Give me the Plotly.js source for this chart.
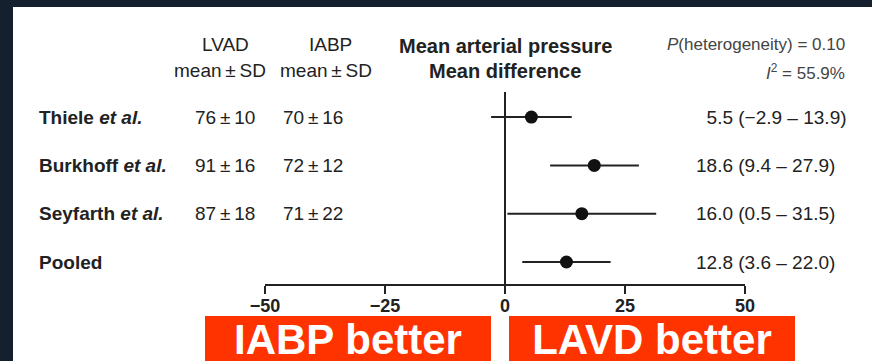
<!DOCTYPE html>
<html>
<head>
<meta charset="utf-8">
<script src="https://cdn.plot.ly/plotly-3.0.1.min.js"></script>
<style>
  html, body { margin: 0; padding: 0; background: #15202f; width: 872px; height: 361px; overflow: hidden; }
  #chart { position: absolute; left: 13px; top: 7px; width: 859px; height: 354px; }
</style>
</head>
<body>
<div id="chart"></div>
<script>
// Mean arterial pressure: LVAD vs IABP, per study and pooled
const studies = ['Thiele et al.', 'Burkhoff et al.', 'Seyfarth et al.', 'Pooled'];
const lvadMean = [76, 91, 87];
const lvadSD = [10, 16, 18];
const iabpMean = [70, 72, 71];
const iabpSD = [16, 12, 22];
const meanDiff = [5.5, 18.6, 16.0, 12.8];
const ciLow = [-2.9, 9.4, 0.5, 3.6];
const ciHigh = [13.9, 27.9, 31.5, 22.0];
const xTicks = [-50, -25, 0, 25, 50];
const heterogeneityP = '0.10';
const iSquared = '55.9%';
const sideLabels = ['IABP better', 'LAVD better'];

const FONT = 'Liberation Sans, Arial, Helvetica, sans-serif';
const INK = '#222';
const rows = studies.map((_, i) => studies.length - i);   // top row first

// plot area spans 480 x 192 px; helpers convert pixel offsets to paper fractions
const PW = 480, PH = 192;
const fx = px => px / PW;          // px measured from the left edge of the plot area
const fy = py => py / PH;          // py measured up from the x axis

const fmt = v => (v < 0 ? '\u2212' : '') + Math.abs(v).toFixed(1);
const pm = (m, s) => m + '\u2009\u00b1\u2009' + s;

const annotations = [];
const add = (o) => annotations.push(Object.assign({
  showarrow: false, xref: 'paper', yref: 'y', yanchor: 'middle',
  font: { family: FONT, size: 19, color: INK }
}, o));

studies.forEach((name, i) => {
  const y = rows[i];
  add({ x: fx(-228), xanchor: 'left', y,
        text: '<b>' + name.replace(' et al.', ' <i>et al.</i>') + '</b>' });
  if (i < lvadMean.length) {
    add({ x: fx(-40), xanchor: 'center', y, text: pm(lvadMean[i], lvadSD[i]) });
    add({ x: fx(48), xanchor: 'center', y, text: pm(iabpMean[i], iabpSD[i]) });
  }
  const pad = meanDiff[i] < 10 ? '\u2007' : '';
  add({ x: fx(429), xanchor: 'left', y,
        text: pad + fmt(meanDiff[i]) + ' (' + fmt(ciLow[i]) + ' \u2013 ' + fmt(ciHigh[i]) + ')' });
});

// column headers
const hdr = (o) => add(Object.assign({ yref: 'paper', xanchor: 'center' }, o));
hdr({ x: fx(-40), y: fy(239), text: 'LVAD' });
hdr({ x: fx(-45), y: fy(214), text: 'mean\u2009\u00b1\u2009SD' });
hdr({ x: fx(65), y: fy(239), text: 'IABP' });
hdr({ x: fx(61), y: fy(214), text: 'mean\u2009\u00b1\u2009SD' });
hdr({ x: 0.5, y: fy(238), font: { family: FONT, size: 20, color: INK },
      text: '<b>Mean arterial pressure</b>' });
hdr({ x: 0.5, y: fy(213), font: { family: FONT, size: 20, color: INK },
      text: '<b>Mean difference</b>' });
hdr({ x: fx(582), xanchor: 'right', y: fy(239),
      font: { family: FONT, size: 17, color: '#444' },
      text: '<i>P</i>(heterogeneity) = ' + heterogeneityP });
hdr({ x: fx(582), xanchor: 'right', y: fy(212),
      font: { family: FONT, size: 17, color: '#444' },
      text: '<i>I</i><sup>2</sup> = ' + iSquared });

// direction banners under the axis
[[83, sideLabels[0]], [387, sideLabels[1]]].forEach(([cx, label]) => {
  annotations.push({
    showarrow: false, xref: 'paper', yref: 'paper',
    x: fx(cx), y: fy(-55), xanchor: 'center', yanchor: 'middle',
    width: 286, height: 46, bgcolor: '#ff3300', borderpad: 0, borderwidth: 0,
    text: '<b>' + label + '</b>',
    font: { family: FONT, size: 42, color: '#ffffff' }
  });
});

const trace = {
  type: 'scatter', mode: 'markers',
  x: meanDiff, y: rows,
  marker: { color: '#111', size: 13 },
  error_x: {
    type: 'data', symmetric: false,
    array: meanDiff.map((m, i) => ciHigh[i] - m),
    arrayminus: meanDiff.map((m, i) => m - ciLow[i]),
    color: '#222', thickness: 2, width: 0
  },
  hoverinfo: 'skip', cliponaxis: false
};

const layout = {
  width: 859, height: 354,
  margin: { l: 252, r: 127, t: 85, b: 77 },
  paper_bgcolor: '#ffffff', plot_bgcolor: '#ffffff',
  showlegend: false,
  xaxis: {
    range: [-50, 50], tickvals: xTicks,
    showgrid: false, zeroline: true, zerolinecolor: '#222', zerolinewidth: 2,
    showline: true, linecolor: '#222', linewidth: 2,
    ticks: 'outside', ticklen: 8, tickwidth: 2, tickcolor: '#222',
    ticklabelstandoff: -4,
    tickfont: { family: FONT, size: 18, color: INK, weight: 'bold' },
    fixedrange: true
  },
  yaxis: {
    range: [0.545, 4.52], showgrid: false, zeroline: false,
    showline: false, showticklabels: false, ticks: '', fixedrange: true
  },
  annotations
};

Plotly.newPlot('chart', [trace], layout, { staticPlot: true, displayModeBar: false });
</script>
</body>
</html>
